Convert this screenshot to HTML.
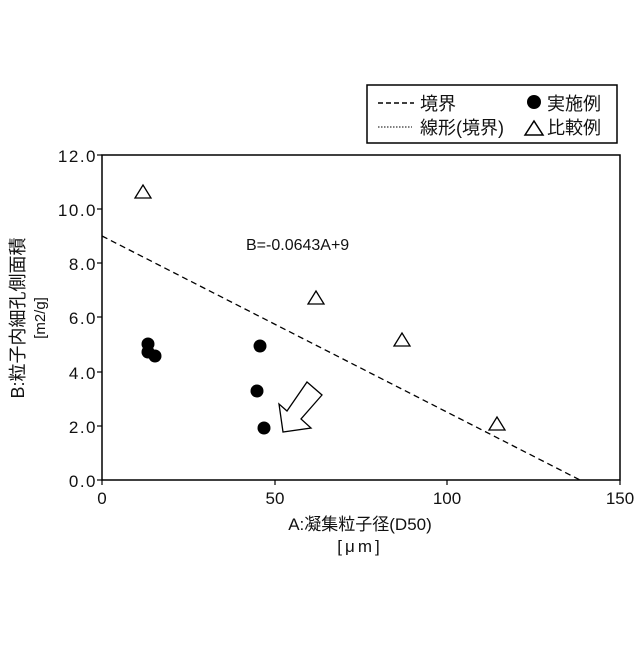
<!DOCTYPE html>
<html><head><meta charset="utf-8"><style>
body{margin:0;background:#fff;}
svg text{font-family:"Liberation Sans","Noto Sans CJK JP",sans-serif;fill:#111;}
</style></head><body>
<svg width="640" height="640" viewBox="0 0 640 640" xmlns="http://www.w3.org/2000/svg">
<rect x="367" y="85" width="250" height="58" fill="#fff" stroke="#000" stroke-width="1.5"/>
<line x1="378" y1="103" x2="414" y2="103" stroke="#000" stroke-width="1.5" stroke-dasharray="5,3"/>
<text x="420" y="110" font-size="18">境界</text>
<circle cx="534" cy="102" r="7" fill="#000"/>
<text x="547" y="110" font-size="18">実施例</text>
<line x1="378" y1="127" x2="412" y2="127" stroke="#000" stroke-width="1" stroke-dasharray="1.5,1.5"/>
<text x="420" y="134" font-size="18">線形(境界)</text>
<polygon points="525,135 534,121 543,135" fill="none" stroke="#000" stroke-width="1.5"/>
<text x="547" y="134" font-size="18">比較例</text>

<rect x="102" y="155" width="518" height="325" fill="none" stroke="#000" stroke-width="1.5"/>
<g stroke="#000" stroke-width="1.2">
<line x1="97" y1="155" x2="102" y2="155"/><line x1="97" y1="209" x2="102" y2="209"/><line x1="97" y1="263" x2="102" y2="263"/><line x1="97" y1="317" x2="102" y2="317"/><line x1="97" y1="372" x2="102" y2="372"/><line x1="97" y1="426" x2="102" y2="426"/><line x1="97" y1="480" x2="102" y2="480"/>
<line x1="102" y1="480" x2="102" y2="485"/><line x1="275" y1="480" x2="275" y2="485"/><line x1="447" y1="480" x2="447" y2="485"/><line x1="620" y1="480" x2="620" y2="485"/>
</g>
<g font-size="17" text-anchor="end" letter-spacing="1.5">
<text x="97" y="162">12.0</text><text x="97" y="216">10.0</text><text x="97" y="270">8.0</text><text x="97" y="324">6.0</text><text x="97" y="379">4.0</text><text x="97" y="433">2.0</text><text x="97" y="487">0.0</text>
</g>
<g font-size="17" text-anchor="middle">
<text x="102" y="504">0</text><text x="275" y="504">50</text><text x="447" y="504">100</text><text x="620" y="504">150</text>
<text x="360" y="530">A:凝集粒子径(D50)</text>
<text x="360" y="552" letter-spacing="3">[μm]</text>
</g>
<text transform="translate(24,318) rotate(-90)" font-size="18" text-anchor="middle">B:粒子内細孔側面積</text>
<text transform="translate(45,318) rotate(-90)" font-size="15" text-anchor="middle">[m2/g]</text>
<text x="246" y="250" font-size="16">B=-0.0643A+9</text>
<line x1="102" y1="236" x2="580" y2="480" stroke="#000" stroke-width="1.3" stroke-dasharray="6,4"/>
<g fill="#000">
<circle cx="148" cy="344" r="6.5"/><circle cx="148" cy="352" r="6.5"/><circle cx="155" cy="356" r="6.5"/><circle cx="260" cy="346" r="6.5"/><circle cx="257" cy="391" r="6.5"/><circle cx="264" cy="428" r="6.5"/>
</g>
<g fill="none" stroke="#000" stroke-width="1.3">
<polygon points="135,198 143,185 151,198"/><polygon points="308,304 316,291 324,304"/><polygon points="394,346 402,333 410,346"/><polygon points="489,430 497,417 505,430"/>
<polygon points="307,382 322,395 301,419 311,428 283,432 279,404 287,411"/>
</g>
</svg>
</body></html>
